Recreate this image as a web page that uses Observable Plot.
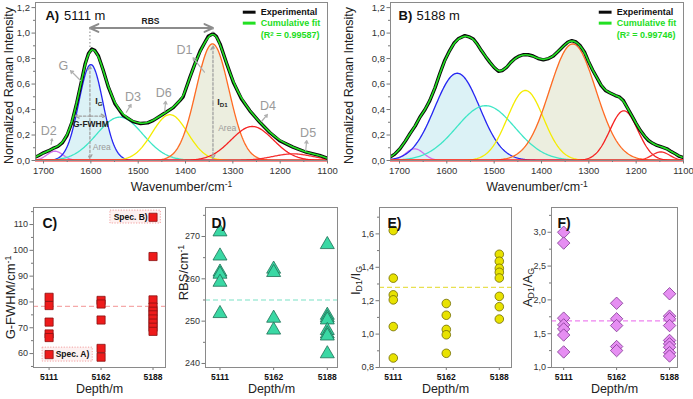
<!DOCTYPE html>
<html><head><meta charset="utf-8">
<script src="https://cdn.jsdelivr.net/npm/d3@7"></script>
<script src="https://cdn.jsdelivr.net/npm/@observablehq/plot@0.6"></script>
<style>
body{margin:0;background:#fff;}
#fig{position:relative;width:693px;height:399px;overflow:hidden;background:#fff;}
#fig > div{position:absolute;}
</style></head><body><div id="fig"></div>
<script>
// ---------- Raman spectra (wavenumber / normalized intensity) ----------
const expWnA = [1718,1710,1700,1690,1680,1670,1660,1650,1640,1630,1620,1612,1605,1598,1592,1584,1574,1563,1549,1532,1511,1495,1480,1468,1447,1426,1412,1405,1391,1380,1369,1352,1342,1335,1327,1313,1299,1282,1264,1243,1222,1201,1173,1145,1117,1102];
const expIntA = [0.025,0.04,0.06,0.075,0.095,0.11,0.14,0.20,0.30,0.45,0.62,0.76,0.84,0.875,0.865,0.82,0.71,0.575,0.445,0.355,0.305,0.29,0.295,0.315,0.365,0.415,0.47,0.50,0.65,0.76,0.86,0.975,0.995,0.975,0.915,0.76,0.615,0.485,0.39,0.30,0.22,0.155,0.105,0.065,0.04,0.02];

const expWnB = [1720,1710,1699,1688,1678,1667,1657,1646,1636,1625,1615,1605,1594,1585,1576,1562,1553,1544,1535,1527,1518,1509,1500,1491,1483,1474,1465,1456,1447,1439,1428,1418,1407,1396,1385,1375,1364,1353,1344,1336,1327,1318,1309,1301,1292,1283,1274,1265,1255,1244,1236,1227,1218,1209,1200,1191,1182,1174,1165,1156,1145,1135,1126,1117,1110,1103];
const expIntB = [0.026,0.05,0.092,0.15,0.21,0.27,0.34,0.40,0.47,0.57,0.68,0.78,0.863,0.92,0.955,0.98,0.97,0.954,0.91,0.863,0.815,0.77,0.73,0.70,0.705,0.73,0.77,0.80,0.82,0.83,0.83,0.82,0.80,0.79,0.80,0.82,0.86,0.90,0.93,0.94,0.93,0.90,0.85,0.78,0.71,0.65,0.59,0.55,0.53,0.51,0.50,0.47,0.41,0.35,0.29,0.235,0.19,0.157,0.135,0.118,0.105,0.092,0.07,0.052,0.035,0.026];

// fitted bands: D2, G, D3, D6, D1, D4, D5
const bandNames = ["D2","G","D3","D6","D1","D4","D5"];
const bandColors = ["#d070ec","#2626f2","#3ee6c6","#f4ec00","#ff6a22","#f52222","#f53030"];
const bandCenterA = [1676,1600,1539,1433,1343,1259,1173];
const bandHeightA = [0.073,0.753,0.34,0.36,0.915,0.267,0.052];
const bandFwhmA   = [40,60,115,88,82,105,100];
const bandCenterB = [1668,1578,1518,1434,1334,1226,1148];
const bandHeightB = [0.092,0.685,0.43,0.55,0.915,0.39,0.067];
const bandFwhmB   = [45,112,145,90,115,70,45];

const wnTicks = [1700,1600,1500,1400,1300,1200,1100];
const intTicks = [0,0.2,0.4,0.6,0.8,1.0,1.2];

// ---------- band parameters per depth ----------
const depthLabels = ["5111","5162","5188"];
const gFwhm5111 = [81.8,78.6,72.2,67.6,66.2,59.6];
const gFwhm5162 = [80.6,79.2,73.0,62.0,58.6];
const gFwhm5188 = [112.8,97.6,80.8,78.0,76.4,75.0,73.4,71.8,70.2,68.6];
const gFwhmMean = 78.3;
const rbs5111 = [271.1,265.4,261.6,261.1,259.2,251.8];
const rbs5162 = [262.3,261.5,250.7,247.9];
const rbs5188 = [268.1,251.4,250.8,250.3,247.8,247.0,246.5,242.3];
const rbsMean = 255.0;
const ratioI5111 = [1.62,1.335,1.235,1.205,1.045,0.857];
const ratioI5162 = [1.183,1.113,1.028,0.996,0.885];
const ratioI5188 = [1.478,1.436,1.394,1.37,1.336,1.226,1.164,1.09];
const ratioIMean = 1.28;
const ratioA5111 = [3.0,2.84,1.73,1.63,1.57,1.48,1.23];
const ratioA5162 = [1.95,1.72,1.62,1.31,1.25];
const ratioA5188 = [2.09,1.76,1.72,1.62,1.40,1.35,1.30,1.22,1.17];
const ratioAMean = 1.69;

// ---------- helpers ----------
const FONT = "'Liberation Sans', Arial, Helvetica, sans-serif";
const comma1 = d => d.toFixed(1).replace(".", ",");
const plain = d => String(d);
const STYLE = {background: "transparent", fontFamily: FONT, overflow: "visible"};
const GRID = d3.range(1100, 1721, 2);

function bandRows(c, h, fw) {
  const s = fw / 2.3548;
  return GRID.map(w => ({w, v: h * Math.exp(-0.5 * ((w - c) / s) ** 2)}));
}

// turn "x_{sub}" / "x^{sup}" in text nodes into tspans
function richText(svg) {
  const ns = "http://www.w3.org/2000/svg";
  svg.querySelectorAll("text").forEach(t => {
    const els = t.querySelector("tspan") ? [...t.querySelectorAll("tspan")] : [t];
    els.forEach(el => {
      const s = el.textContent;
      if (!/[_^]\{/.test(s)) return;
      el.textContent = "";
      const re = /([_^])\{([^}]*)\}/g;
      let last = 0, m;
      const add = (txt, kind) => {
        const sp = document.createElementNS(ns, "tspan");
        sp.textContent = txt;
        if (kind) {
          sp.setAttribute("font-size", "68%");
          sp.setAttribute("baseline-shift", kind === "_" ? "-25%" : "40%");
        }
        el.appendChild(sp);
      };
      while ((m = re.exec(s))) {
        if (m.index > last) add(s.slice(last, m.index));
        add(m[2], m[1]);
        last = re.lastIndex;
      }
      if (last < s.length) add(s.slice(last));
    });
  });
}

function place(svg, left, top) {
  const d = document.createElement("div");
  d.style.left = left + "px";
  d.style.top = top + "px";
  d.appendChild(svg);
  document.getElementById("fig").appendChild(d);
  richText(svg);
}

// rotated axis title on the left of a panel
function yTitle(text, dx, dy, size) {
  return Plot.text([text], {frameAnchor: "left", textAnchor: "middle", lineAnchor: "middle", dx: -dx, dy, rotate: -90, text: d => d, fontSize: size, fill: "#222"});
}

function spectrumPanel(o) {
  const bands = o.centers.map((c, i) => bandRows(c, o.heights[i], o.widths[i]));
  const exp = o.expW.map((w, i) => ({w, v: o.expV[i]}));
  const legendRows = [
    {v: 1.164, color: "#0a0a0a", text: "Experimental", tc: "#111"},
    {v: 1.078, color: "#22e022", text: "Cumulative fit", tc: "#22dd22"}
  ];
  return Plot.plot({
    width: o.width, height: 200,
    marginLeft: o.ml, marginRight: o.mr, marginTop: 2, marginBottom: 40,
    x: {domain: o.xDomain, label: null},
    y: {domain: [0, 1.24], label: null},
    style: STYLE,
    marks: [
      Plot.areaY(bands[1], {x: "w", y: "v", fill: "#dcf2f6", clip: true}),
      Plot.areaY(bands[4], {x: "w", y: "v", fill: "#eceedf", clip: true}),
      ...bands.map((b, i) => Plot.line(b, {x: "w", y: "v", stroke: bandColors[i], strokeWidth: 1.3, clip: true})),
      Plot.ruleY([0], {stroke: "#ff1a1a", strokeWidth: 1.8}),
      Plot.line(exp, {x: "w", y: "v", stroke: "#0a0a0a", strokeWidth: 3.4, clip: true}),
      Plot.line(exp, {x: "w", y: "v", stroke: "#22e022", strokeWidth: 1.6, curve: "basis", clip: true}),
      ...(o.extra || []),
      // legend
      Plot.link(legendRows, {x1: 1279, x2: 1252, y1: "v", y2: "v", stroke: "color", strokeWidth: 3}),
      Plot.text(legendRows, {x: 1241, y: "v", text: "text", fill: "tc", textAnchor: "start", fontWeight: "bold", fontSize: 9}),
      Plot.text([o.r2], {x: 1241, y: 0.982, text: d => d, fill: "#22dd22", textAnchor: "start", fontWeight: "bold", fontSize: 9}),
      // panel title
      Plot.text([o.tag], {x: o.tagX, y: 1.138, text: d => d, textAnchor: "start", fontWeight: "bold", fontSize: 13, fill: "#111"}),
      Plot.text([o.depth], {x: o.depthX, y: 1.138, text: d => d, textAnchor: "start", fontSize: 13, fill: "#111"}),
      // axes
      Plot.axisX({ticks: d3.range(1150, 1701, 100), tickSize: 2, tickFormat: () => "", stroke: "#777", label: null}),
      Plot.axisX({ticks: wnTicks, tickSize: 3.5, tickPadding: 3, tickFormat: plain, fontSize: 9.5, fill: "#333", stroke: "#777", label: null}),
      Plot.axisY({ticks: d3.range(0.1, 1.21, 0.2), tickSize: 2, tickFormat: () => "", stroke: "#777", label: null}),
      Plot.axisY({ticks: intTicks, tickSize: 3.5, tickPadding: 2, tickFormat: comma1, fontSize: 9.5, fill: "#333", stroke: "#777", label: null}),
      Plot.frame({stroke: "#8a8a8a"}),
      yTitle("Normalized Raman Intensity", o.ml - 8, 4, 12.5),
      Plot.text(["Wavenumber/cm^{-1}"], {frameAnchor: "bottom", dy: 30, text: d => d, fontSize: 12.5, fill: "#222"})
    ]
  });
}

// annotations on the 5111 m spectrum
const annGray = "#9a9a9a";
const bandLabelsA = [
  {t: "G", w: 1658, v: 0.745}, {t: "D2", w: 1689, v: 0.23}, {t: "D3", w: 1511, v: 0.497},
  {t: "D6", w: 1446, v: 0.528}, {t: "D1", w: 1402, v: 0.869}, {t: "D4", w: 1226, v: 0.43},
  {t: "D5", w: 1141, v: 0.214}
];
const bandArrowsA = [
  {x1: 1622, y1: 0.628, x2: 1643, y2: 0.706}, {x1: 1525, y1: 0.379, x2: 1515, y2: 0.44},
  {x1: 1444, y1: 0.387, x2: 1442, y2: 0.465}, {x1: 1360, y1: 0.693, x2: 1384, y2: 0.806},
  {x1: 1239, y1: 0.308, x2: 1227, y2: 0.361}, {x1: 1684, y1: 0.126, x2: 1682, y2: 0.17},
  {x1: 1146, y1: 0.078, x2: 1144, y2: 0.157}
];
const annA = [
  // RBS double arrow between the G and D1 maxima
  Plot.arrow([{x2: 1602}, {x2: 1342}], {x1: 1472, y1: 1.04, x2: "x2", y2: 1.04, stroke: "#8c8c8c", strokeWidth: 2, headLength: 7, headAngle: 50}),
  Plot.text(["RBS"], {x: 1474, y: 1.093, text: d => d, fontWeight: "bold", fontSize: 8.5, fill: "#222"}),
  Plot.link([{x: 1602, a: 1.04, b: 0.88}, {x: 1342, a: 1.04, b: 0.99}], {x1: "x", x2: "x", y1: "a", y2: "b", stroke: "#a0a0a0", strokeWidth: 1.3, strokeDasharray: "1.5,2"}),
  // peak intensity arrows
  Plot.arrow([{x: 1602, a: 0.4, b: 0.74}, {x: 1602, a: 0.4, b: 0.015}, {x: 1342, a: 0.45, b: 0.9}, {x: 1342, a: 0.45, b: 0.015}],
    {x1: "x", x2: "x", y1: "a", y2: "b", stroke: "#a0a0a0", strokeWidth: 1.3, strokeDasharray: "2.5,2", headLength: 5, headAngle: 55}),
  Plot.text(["I_{G}"], {x: 1591, y: 0.47, text: d => d, textAnchor: "start", fontWeight: "bold", fontSize: 9, fill: "#222"}),
  Plot.text(["I_{D1}"], {x: 1333, y: 0.457, text: d => d, textAnchor: "start", fontWeight: "bold", fontSize: 9, fill: "#222"}),
  // G-FWHM
  Plot.arrow([{x2: 1633}, {x2: 1570}], {x1: 1601, y1: 0.348, x2: "x2", y2: 0.348, stroke: "#a0a0a0", strokeWidth: 1.3, strokeDasharray: "2.5,2", headLength: 5, headAngle: 55}),
  Plot.text(["G-FWHM"], {x: 1600, y: 0.283, text: d => d, fontWeight: "bold", fontSize: 8.5, fill: "#222"}),
  Plot.text([{w: 1577, v: 0.104}, {w: 1312, v: 0.254}], {x: "w", y: "v", text: () => "Area", fontSize: 8.5, fill: annGray}),
  // band labels
  Plot.arrow(bandArrowsA, {x1: "x1", y1: "y1", x2: "x2", y2: "y2", stroke: "#b0b0b0", strokeWidth: 1.2, headLength: 4}),
  Plot.text(bandLabelsA, {x: "w", y: "v", text: "t", fontSize: 12.5, fill: annGray})
];

place(spectrumPanel({
  width: 340, ml: 35, mr: 13, xDomain: [1717, 1100],
  centers: bandCenterA, heights: bandHeightA, widths: bandFwhmA,
  expW: expWnA, expV: expIntA, r2: "(R^{2} = 0.99587)",
  tag: "A)", tagX: 1696, depth: "5111 m", depthX: 1657, extra: annA
}), 0, 0);

place(spectrumPanel({
  width: 353, ml: 50, mr: 10, xDomain: [1719, 1100],
  centers: bandCenterB, heights: bandHeightB, widths: bandFwhmB,
  expW: expWnB, expV: expIntB, r2: "(R^{2} = 0.99746)",
  tag: "B)", tagX: 1702, depth: "5188 m", depthX: 1664
}), 340, 0);

// ---------- scatter panels ----------
function scatterPanel(o) {
  const pts = [];
  o.groups.forEach((vals, i) => vals.forEach(v => pts.push({i, v})));
  return Plot.plot({
    width: o.width, height: 199,
    marginLeft: o.ml, marginRight: o.mr, marginTop: 7, marginBottom: 32,
    x: {domain: o.xDomain, label: null},
    y: {domain: o.yDomain, label: null},
    style: STYLE,
    marks: [
      ...(o.before || []),
      Plot.ruleY([o.mean], {stroke: o.meanColor, strokeWidth: 1.4, strokeDasharray: "5,3"}),
      Plot.dot(pts, {x: "i", y: "v", symbol: o.symbol, r: o.r, fill: o.fill, stroke: o.stroke, strokeWidth: 0.8}),
      ...(o.after || []),
      Plot.axisX({ticks: [0, 1, 2], tickSize: 3, tickPadding: 3, tickFormat: i => depthLabels[i], fontWeight: "bold", fontSize: 8.5, fill: "#111", stroke: "#777", label: null}),
      Plot.axisY({ticks: o.minor, tickSize: 2, tickFormat: () => "", stroke: "#777", label: null}),
      Plot.axisY({ticks: o.ticks, tickSize: 3.5, tickPadding: 2, tickFormat: o.fmt, fontSize: 9, fill: "#333", stroke: "#777", label: null}),
      Plot.frame({stroke: "#8a8a8a"}),
      Plot.text([o.tag], {frameAnchor: "top-left", dx: o.tagDx, dy: 11, text: d => d, fontWeight: "bold", fontSize: 14, fill: "#111"}),
      yTitle(o.title, o.titleDx, o.titleDy || 0, 13),
      Plot.text(["Depth/m"], {frameAnchor: "bottom", dy: 25, text: d => d, fontSize: 12.5, fill: "#222"})
    ]
  });
}

const specBoxes = [
  {x1: -0.125, x2: 0.84, y1: 56.9, y2: 62.3, t: "Spec. A)", tx: 0.45, ty: 59.6},
  {x1: 1.18, x2: 2.15, y1: 110.4, y2: 115.4, t: "Spec. B)", tx: 1.57, ty: 112.8}
];

place(scatterPanel({
  width: 175, ml: 33, mr: 10, xDomain: [-0.30, 2.24], yDomain: [54.6, 116.6],
  groups: [gFwhm5111, gFwhm5162, gFwhm5188], mean: gFwhmMean, meanColor: "#f5a9a9",
  symbol: "square", r: 4.6, fill: "#ee1b1b", stroke: "#8a1212",
  ticks: [60, 70, 80, 90, 100, 110], minor: [55, 65, 75, 85, 95, 105, 115], fmt: plain,
  before: [Plot.rect(specBoxes, {x1: "x1", x2: "x2", y1: "y1", y2: "y2", fill: "#fdf1f1", stroke: "#f2a0a0", strokeWidth: 1, strokeDasharray: "1.2,1.5"})],
  after: [Plot.text(specBoxes, {x: "tx", y: "ty", text: "t", fontWeight: "bold", fontSize: 8.5, fill: "#111"})],
  tag: "C)", tagDx: 9, title: "G-FWHM/cm^{-1}", titleDx: 23, titleDy: 10
}), 0, 200);

place(scatterPanel({
  width: 180, ml: 37, mr: 11, xDomain: [-0.27, 2.19], yDomain: [239.05, 276.85],
  groups: [rbs5111, rbs5162, rbs5188], mean: rbsMean, meanColor: "#a6ecd9",
  symbol: "triangle", r: 5.2, fill: "#3ad8a4", stroke: "#1f6e55",
  ticks: [240, 250, 260, 270], minor: [245, 255, 265, 275], fmt: plain,
  tag: "D)", tagDx: 6, title: "RBS/cm^{-1}", titleDx: 22, titleDy: -15
}), 168, 200);

place(scatterPanel({
  width: 175, ml: 34, mr: 9, xDomain: [-0.26, 2.23], yDomain: [0.8, 1.758],
  groups: [ratioI5111, ratioI5162, ratioI5188], mean: ratioIMean, meanColor: "#e8e050",
  symbol: "circle", r: 4.3, fill: "#e8e200", stroke: "#6f6a00",
  ticks: [0.8, 1.0, 1.2, 1.4, 1.6], minor: [0.9, 1.1, 1.3, 1.5, 1.7], fmt: comma1,
  tag: "E)", tagDx: 8, title: "I_{D1}/I_{G}", titleDx: 24, titleDy: -7
}), 345, 200);

place(scatterPanel({
  width: 173, ml: 31, mr: 16, xDomain: [-0.23, 2.15], yDomain: [1.0, 3.366],
  groups: [ratioA5111, ratioA5162, ratioA5188], mean: ratioAMean, meanColor: "#ee82f0",
  symbol: "diamond2", r: 5.6, fill: "#e68ef2", stroke: "#7e3590",
  ticks: [1.0, 1.5, 2.0, 2.5, 3.0], minor: [1.25, 1.75, 2.25, 2.75, 3.25], fmt: comma1,
  tag: "F)", tagDx: 6, title: "A_{D1}/A_{G}", titleDx: 24, titleDy: 0
}), 520, 200);
</script></body></html>
